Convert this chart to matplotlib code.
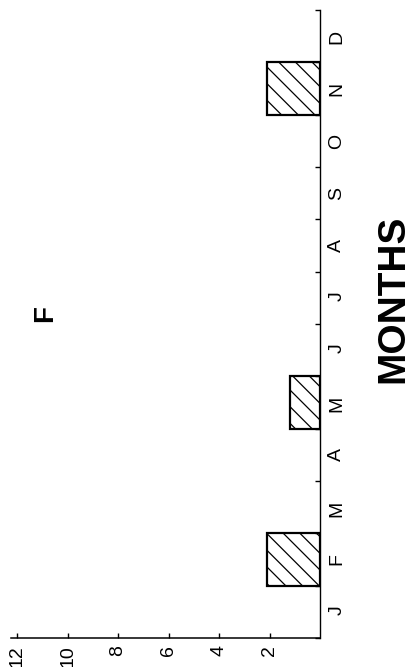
import matplotlib
matplotlib.use("Agg")
import matplotlib.pyplot as plt

months = ['J', 'F', 'M', 'A', 'M', 'J', 'J', 'A', 'S', 'O', 'N', 'D']
values = [0, 2.1, 0, 0, 1.2, 0, 0, 0, 0, 0, 2.1, 0]
value_ticks = [2, 4, 6, 8, 10, 12]
panel_label = 'F'
axis_title = 'MONTHS'

plt.rcParams['font.family'] = ['Liberation Sans', 'DejaVu Sans']
plt.rcParams['hatch.linewidth'] = 0.9

W, H = 410, 667
fig = plt.figure(figsize=(W / 100, H / 100), dpi=100)
x_left_px, x_right_px = 10.7, 320
y_top_px, y_bot_px = 10, 638
ax = fig.add_axes([x_left_px / W, 1 - y_bot_px / H,
                   (x_right_px - x_left_px) / W, (y_bot_px - y_top_px) / H])

idx = [i for i, v in enumerate(values) if v > 0]
ax.barh([i + 0.5 for i in idx], [values[i] for i in idx], height=1.0, left=0,
        facecolor='white', edgecolor='black', linewidth=1.6, hatch='\\\\')

ax.set_xlim(12.25, 0)
ax.set_ylim(0, 12)

for s in ['top', 'left']:
    ax.spines[s].set_visible(False)
ax.spines['bottom'].set_linewidth(1.1)
ax.spines['right'].set_linewidth(1.0)

# value axis
ax.set_xticks(value_ticks)
ax.set_xticklabels([str(v) for v in value_ticks], rotation=90, fontsize=14)
ax.tick_params(axis='x', direction='in', length=3.6, width=1.0, pad=5)

# month axis on the right
ax.yaxis.tick_right()
ax.set_yticks([i + 0.5 for i in range(len(months))])
ax.set_yticklabels(months, rotation=90, fontsize=14)
ax.set_yticks(list(range(0, 13)), minor=True)
ax.tick_params(axis='y', which='major', length=0, pad=6)
ax.tick_params(axis='y', which='minor', direction='in', length=3.6, width=1.0)

fig.text(393 / W, 1 - 299 / H, axis_title, rotation=90, fontsize=28,
         fontweight='bold', ha='center', va='center')
fig.text(45 / W, 1 - 314 / H, panel_label, rotation=90, fontsize=20,
         fontweight='bold', ha='center', va='center')

fig.savefig('out.png', dpi=100)
